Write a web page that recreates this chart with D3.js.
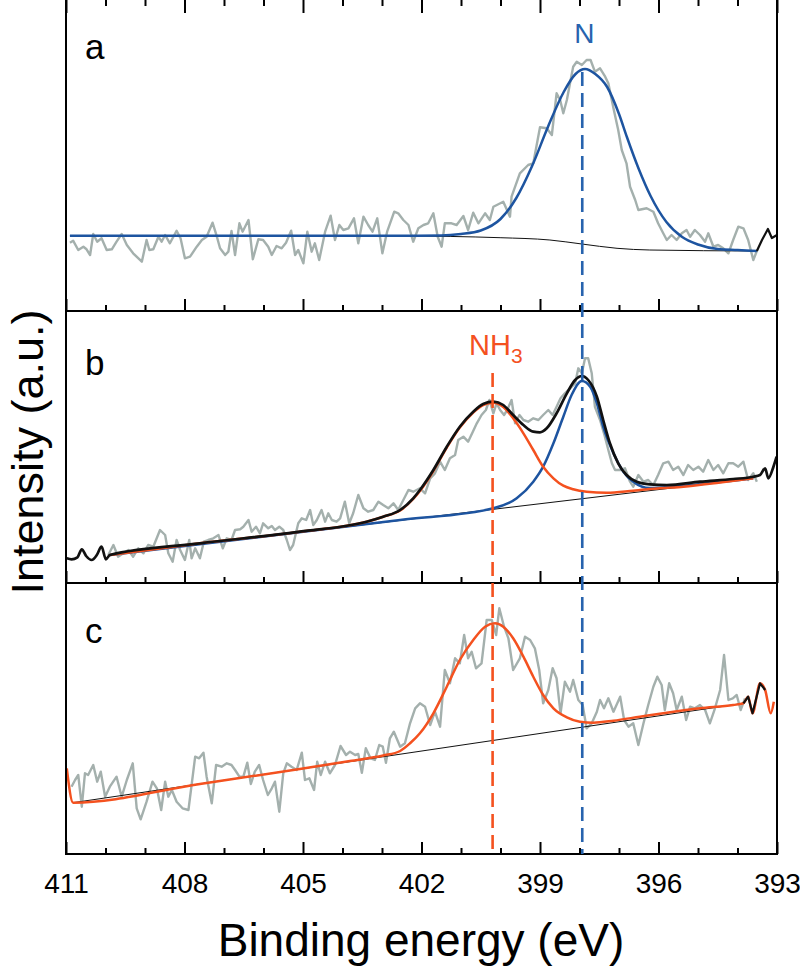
<!DOCTYPE html>
<html><head><meta charset="utf-8">
<script src="https://cdn.jsdelivr.net/npm/d3@7/dist/d3.min.js"></script>
<style>
html,body{margin:0;padding:0;background:#fff;}
svg{display:block;font-family:"Liberation Sans",Arial,Helvetica,sans-serif;}
</style></head>
<body>
<svg id="chart" width="800" height="967"></svg>
<script>
// ---------- data (binding energy eV, intensity a.u.) ----------
const energyMajor = [411, 408, 405, 402, 399, 396, 393];
const energyMinor = [410, 409, 407, 406, 404, 403, 401, 400, 398, 397, 395, 394];
const panelLabels = ["a", "b", "c"];
const peakN = 397.93;
const peakNH3 = 400.2;

// panel a
const rawA = [[410.90,68.3],[410.82,70.3],[410.69,61],[410.56,64.3],[410.48,61.7],[410.39,56],[410.31,77],[410.21,69.3],[410.10,72.7],[409.97,61],[409.84,61.7],[409.72,69.3],[409.59,77],[409.46,66],[409.30,57.7],[409.08,49.3],[408.96,71],[408.89,61],[408.79,61.7],[408.66,74.3],[408.58,69.3],[408.49,76],[408.37,67.7],[408.20,80.3],[408.10,72.7],[407.99,52.7],[407.86,54.3],[407.69,64.3],[407.56,71],[407.44,74.3],[407.29,88.3],[407.18,74.3],[407.10,62.7],[406.97,56],[406.89,59.3],[406.81,80],[406.72,56],[406.61,87.7],[406.53,79.3],[406.38,91],[406.27,51.7],[406.13,71.7],[406.01,71],[405.88,64.3],[405.79,56],[405.67,65],[405.54,62.7],[405.43,68.3],[405.30,80.3],[405.20,56],[405.12,61],[404.99,47.7],[404.89,79.3],[404.78,59.3],[404.70,67.7],[404.59,51],[404.44,79.3],[404.30,95.3],[404.19,71],[404.08,86],[403.98,81],[403.85,82.7],[403.71,92.7],[403.60,67.7],[403.47,94.3],[403.35,86],[403.24,79.3],[403.12,92.7],[402.99,57.7],[402.87,79.3],[402.69,99.3],[402.59,97.7],[402.46,91],[402.33,86],[402.21,69.3],[402.08,82.7],[401.95,86],[401.83,87.7],[401.70,97.7],[401.59,74.3],[401.49,64.3],[401.41,87.7],[401.24,87.7],[401.11,86],[400.94,95],[400.82,81],[400.69,98.3],[400.56,87.7],[400.39,97.7],[400.27,91],[400.18,104.3],[399.93,109.3],[399.76,94.3],[399.72,114.3],[399.51,137.7],[399.30,146],[399.17,147.7],[399.00,183.7],[398.83,182.7],[398.70,176],[398.58,217.7],[398.49,211],[398.41,197.7],[398.32,211],[398.24,227.7],[398.16,244.3],[398.07,249.3],[397.94,246],[397.82,251],[397.72,251],[397.61,239.3],[397.48,242.7],[397.35,234.3],[397.27,227.7],[397.14,202.7],[397.02,181],[396.93,161],[396.81,147.7],[396.72,124.3],[396.59,111],[396.51,101],[396.30,102.7],[396.13,99.3],[396.01,87.7],[395.88,77.7],[395.79,71],[395.67,76],[395.54,71],[395.41,77.7],[395.29,81],[395.20,74.3],[395.08,81],[394.95,76],[394.82,69.3],[394.74,77.7],[394.61,64.3],[394.49,66],[394.36,62.7],[394.23,57.7],[394.11,71],[393.98,84.3],[393.85,82.7],[393.73,71],[393.60,51],[393.50,61]];
const fitA_N = [[410.90,75.3],[405.0,75.3],[402.5,75.3],[401.5,75.5],[401.0,77],[400.5,80.5],[400.0,92],[399.6,113],[399.2,145],[398.8,184],[398.4,219],[398.1,237],[397.86,242],[397.6,237],[397.3,224],[397.0,197],[396.8,174],[396.5,142],[396.2,115],[395.8,89],[395.4,74],[395.0,66.5],[394.5,62],[394.0,61],[393.51,60]];
const bgA = [[410.90,75.3],[402.54,75],[400.01,73.3],[398.75,71],[397.94,67],[397.05,62.7],[396.22,61],[393.51,60]];
const envA = [[393.51,60],[393.38,71],[393.23,82],[393.13,73],[393.0,76]];

// panel b
const rawB = [[409.93,28],[409.80,38],[409.68,26.3],[409.55,29.7],[409.42,33],[409.30,26.3],[409.17,34.7],[409.04,29.7],[408.92,38],[408.79,36.3],[408.62,53],[408.49,48],[408.41,29.7],[408.30,21.3],[408.20,43],[408.11,33],[407.99,23],[407.88,43],[407.82,24.7],[407.73,34.7],[407.61,24.7],[407.51,41.3],[407.40,43],[407.27,44.7],[407.14,48],[407.03,34.7],[406.93,44.7],[406.81,43],[406.72,53],[406.59,53.7],[406.51,56.3],[406.38,63],[406.30,51.3],[406.19,56.3],[406.09,49.7],[406.01,59.7],[405.88,54.7],[405.79,57],[405.71,53],[405.60,56.3],[405.50,53],[405.41,43],[405.33,33],[405.25,38],[405.12,59.7],[405.03,64.7],[404.92,63],[404.82,73],[404.74,58],[404.65,63],[404.53,73],[404.44,61.3],[404.36,69.7],[404.27,63],[404.15,61.3],[404.06,64.7],[403.94,81.3],[403.83,59.7],[403.73,69.7],[403.60,88],[403.47,74.7],[403.35,71.3],[403.22,73],[403.09,81.3],[402.97,78],[402.84,74.7],[402.71,79.7],[402.59,73],[402.46,83],[402.33,93],[402.21,91.3],[402.04,94.7],[401.91,89.7],[401.78,104.7],[401.66,109.7],[401.53,121.3],[401.41,113],[401.28,124.7],[401.15,128],[401.07,143],[400.94,146.3],[400.82,141.3],[400.70,151.3],[400.60,159.7],[400.48,168],[400.37,173],[400.28,183],[400.18,169.7],[400.10,179.7],[400.01,173],[399.91,168],[399.83,173],[399.72,183],[399.63,159.7],[399.52,168],[399.42,163],[399.30,161.3],[399.17,164.7],[399.04,163],[398.92,168],[398.79,173],[398.68,168],[398.58,176.3],[398.48,184.7],[398.37,189.7],[398.24,194.7],[398.11,199.7],[398.03,214.7],[397.94,209.7],[397.86,224.7],[397.78,224.7],[397.69,209.7],[397.61,176.3],[397.48,163],[397.38,149.7],[397.27,133],[397.18,119.7],[397.10,113],[396.97,113],[396.85,114.7],[396.72,101.3],[396.64,96.3],[396.51,108],[396.38,101.3],[396.26,103],[396.13,98],[396.01,108],[395.88,119.7],[395.75,121.3],[395.63,113],[395.50,116.3],[395.37,108],[395.25,118],[395.12,113],[394.99,116.3],[394.87,111.3],[394.74,123],[394.61,113],[394.49,118],[394.36,109.7],[394.23,119.7],[394.11,119.7],[393.98,116.3],[393.85,121.3],[393.73,103],[393.60,109.7],[393.51,101.3]];
const fitB_N = [[409.89,28],[402.54,63],[400.18,74.7],[399.59,84.7],[399.17,101.3],[398.92,116.3],[398.66,139.7],[398.41,166.3],[398.20,188],[397.94,202],[397.73,196.3],[397.56,179.7],[397.40,156.3],[397.14,129.7],[396.89,111.3],[396.64,101.3],[396.22,95],[395.46,97],[393.60,104.7]];
const fitB_NH3 = [[409.89,28],[407.61,39.7],[405.08,51.3],[403.39,61.3],[402.97,66.3],[402.54,72.5],[402.21,84],[402.04,92],[401.70,112],[401.36,135.5],[401.03,155.5],[400.69,170.5],[400.44,178],[400.18,180.3],[399.93,176],[399.68,164.7],[399.42,149.7],[399.17,133],[398.92,116.3],[398.66,104.7],[398.41,97.3],[398.16,93.7],[397.82,91.3],[397.31,90.3],[396.64,92.3],[395.96,94.7],[395.37,96.3],[394.44,100.5],[393.60,104.7]];
const envB = [[410.98,24.7],[410.86,23.7],[410.71,25.7],[410.60,33.7],[410.49,27],[410.35,23],[410.22,28],[410.10,36.3],[409.99,23.7],[409.89,28],[407.61,39.7],[405.08,51.3],[403.39,61.3],[402.97,66.3],[402.54,73],[402.21,84.7],[402.04,93],[401.70,113],[401.36,136.3],[401.03,156.3],[400.69,171.3],[400.44,179],[400.18,181.3],[399.93,178],[399.68,168],[399.42,158],[399.17,151.3],[399.0,150.7],[398.83,154.7],[398.58,169.7],[398.32,189.7],[398.11,203],[397.94,207],[397.78,203],[397.56,186.3],[397.40,163],[397.23,139.7],[397.02,119.7],[396.81,108],[396.55,101.3],[396.22,98.7],[395.79,98],[394.95,101.3],[394.11,104],[393.60,106.3],[393.43,108],[393.30,114.7],[393.22,104.7],[393.09,116.3],[393.01,126.3]];
const bgB = [[409.89,28],[393.60,104.7]];

// panel c
const rawC = [[410.86,67.3],[410.77,74],[410.69,79],[410.60,47.3],[410.52,80.7],[410.44,79],[410.31,89],[410.21,72.3],[410.12,82.3],[410.01,57.3],[409.89,67.3],[409.72,77.3],[409.59,57.3],[409.46,74],[409.31,90.7],[409.21,45.7],[409.11,34.7],[408.96,52.3],[408.81,72.3],[408.70,65.7],[408.59,44],[408.49,72.3],[408.41,57.3],[408.32,64],[408.20,52.3],[408.05,45.7],[407.90,44],[407.73,97.3],[407.63,95.7],[407.52,101.3],[407.44,77.3],[407.31,50.7],[407.20,89],[407.06,87.3],[406.93,90.7],[406.81,89],[406.72,84],[406.61,77.3],[406.51,77.3],[406.41,91.3],[406.32,70],[406.22,82.3],[406.11,89],[406.01,74],[405.89,59],[405.79,65.7],[405.71,72.3],[405.60,42.3],[405.50,80.7],[405.41,90.7],[405.29,87.3],[405.16,84],[405.03,101.3],[404.95,74],[404.84,75.7],[404.72,64],[404.64,92.3],[404.55,79],[404.44,92.3],[404.32,80.7],[404.19,89],[404.05,108],[403.91,99],[403.81,102.3],[403.68,99],[403.60,100],[403.51,81.3],[403.41,105.7],[403.29,95.7],[403.18,94],[403.07,109],[402.98,107.3],[402.90,91.3],[402.80,115.7],[402.70,122.3],[402.54,107.3],[402.42,110.7],[402.29,130.7],[402.16,145.7],[402.04,150.7],[401.91,147.3],[401.78,129],[401.66,142.3],[401.53,127.3],[401.41,184],[401.28,170.7],[401.15,195.7],[401.03,190.7],[400.92,219],[400.82,195.7],[400.73,202.3],[400.62,185.7],[400.48,190.7],[400.35,234],[400.22,234],[400.11,219],[400.03,245.7],[399.91,227.3],[399.80,215.7],[399.68,184],[399.51,195.7],[399.38,217.3],[399.25,214],[399.13,205.7],[399.02,184],[398.92,150.7],[398.79,164],[398.68,185.7],[398.58,175.7],[398.48,140.7],[398.37,172.3],[398.24,162.3],[398.16,174],[398.03,154],[397.92,149],[397.82,125.7],[397.69,130.7],[397.56,142.3],[397.48,154],[397.38,145.7],[397.27,155.7],[397.14,142.3],[396.97,157.3],[396.87,134],[396.76,127.3],[396.64,130.7],[396.51,109],[396.38,130.7],[396.26,149],[396.13,167.3],[396.03,177.3],[395.92,169],[395.84,144],[395.73,170.7],[395.63,160.7],[395.54,144],[395.41,157.3],[395.30,134],[395.20,147.3],[395.08,145.7],[394.95,149],[394.82,144],[394.70,130.7],[394.57,145.7],[394.44,164],[394.34,199],[394.23,154],[394.12,155.7],[394.02,159],[393.92,144],[393.81,155.7]];
const fitC_NH3 = [[410.98,85.7],[410.82,51.3],[407.61,70],[405.08,85],[403.81,93],[402.97,98.5],[402.54,103],[402.29,110.7],[402.04,120.7],[401.70,140.7],[401.36,167.3],[401.03,194],[400.69,214],[400.39,227.3],[400.14,230.7],[399.93,227.3],[399.68,215.7],[399.42,197.3],[399.17,177.3],[398.92,159],[398.66,145.7],[398.32,136.7],[397.99,132.3],[397.65,131.3],[397.14,133.3],[396.47,137.3],[395.79,141.3],[394.95,145.7],[394.11,149],[393.85,150.7],[393.73,157.3],[393.62,140.7],[393.43,170.7],[393.30,164],[393.16,140.7],[393.08,152.3]];
const envC = [[393.85,150.7],[393.73,157.3],[393.62,140.7],[393.43,170.7],[393.30,164]];
const bgC = [[410.82,51.3],[393.85,150.7]];

// ---------- styling / layout ----------
const COL = {gray:"#a4b0ad", blue:"#1d54a0", blueDash:"#2763ae", orange:"#f4511f", black:"#111111"};
const FONT = '"Liberation Sans",Arial,Helvetica,sans-serif';
const left = 66, right = 777;
const panels = [
  {top:-1, bottom:311, raw:rawA, bg:bgA, comps:[{d:fitA_N,c:COL.blue}], env:envA, labelY:59},
  {top:311, bottom:583, raw:rawB, bg:bgB, comps:[{d:fitB_N,c:COL.blue},{d:fitB_NH3,c:COL.orange}], env:envB, labelY:375},
  {top:583, bottom:854, raw:rawC, bg:bgC, comps:[{d:fitC_NH3,c:COL.orange}], env:envC, labelY:643}
];

const svg = d3.select("#chart");
const x = d3.scaleLinear().domain([411, 393]).range([left, right]);

panels.forEach((p, i) => {
  const y = d3.scaleLinear().domain([0, p.bottom - p.top]).range([p.bottom, p.top]);
  const g = svg.append("g");
  const raw = d3.line().x(d => x(d[0])).y(d => y(d[1]));
  const smooth = d3.line().x(d => x(d[0])).y(d => y(d[1])).curve(d3.curveMonotoneX);

  g.append("path").attr("d", raw(p.raw)).attr("fill","none")
    .attr("stroke", COL.gray).attr("stroke-width", 2.4).attr("stroke-linejoin","round");
  g.append("path").attr("d", smooth(p.bg)).attr("fill","none")
    .attr("stroke", COL.black).attr("stroke-width", 1);
  p.comps.forEach(c => {
    g.append("path").attr("d", smooth(c.d)).attr("fill","none")
      .attr("stroke", c.c).attr("stroke-width", 2.5).attr("stroke-linejoin","round");
  });
  if (i === 1) {
    g.append("path").attr("d", smooth(p.env)).attr("fill","none")
      .attr("stroke", COL.black).attr("stroke-width", 2.7).attr("stroke-linejoin","round");
  } else {
    g.append("path").attr("d", raw(p.env)).attr("fill","none")
      .attr("stroke", COL.black).attr("stroke-width", 2.2).attr("stroke-linejoin","round");
  }

  // ticks (inward)
  const bottomMajor = d3.axisBottom(x).tickValues(energyMajor).tickSize(-12).tickFormat("");
  const bottomMinor = d3.axisBottom(x).tickValues(energyMinor).tickSize(-6).tickFormat("");
  [bottomMajor, bottomMinor].forEach(ax => {
    const a = svg.append("g").attr("transform", `translate(0,${p.bottom})`).call(ax);
    a.select(".domain").remove();
    a.selectAll("line").attr("stroke", "#000").attr("stroke-width", 2);
  });
  if (i === 0) {
    const topMajor = d3.axisTop(x).tickValues(energyMajor).tickSize(-14).tickFormat("");
    const topMinor = d3.axisTop(x).tickValues(energyMinor).tickSize(-7).tickFormat("");
    [topMajor, topMinor].forEach(ax => {
      const a = svg.append("g").attr("transform", `translate(0,${p.top})`).call(ax);
      a.select(".domain").remove();
      a.selectAll("line").attr("stroke", "#000").attr("stroke-width", 2);
    });
  }
  // frame
  svg.append("rect").attr("x", left).attr("y", p.top).attr("width", right - left)
    .attr("height", p.bottom - p.top).attr("fill","none").attr("stroke","#000").attr("stroke-width", 2);
  // panel label
  svg.append("text").attr("x", 85).attr("y", p.labelY).attr("font-size", 35)
    .attr("fill", "#000").text(panelLabels[i]);
});

// dashed reference lines
svg.append("line").attr("x1", x(peakN)).attr("x2", x(peakN)).attr("y1", 72).attr("y2", 854)
  .attr("stroke", COL.blueDash).attr("stroke-width", 2.6).attr("stroke-dasharray", "14,7");
svg.append("line").attr("x1", x(peakNH3)).attr("x2", x(peakNH3)).attr("y1", 373).attr("y2", 854)
  .attr("stroke", COL.orange).attr("stroke-width", 2.6).attr("stroke-dasharray", "14,7");

// peak labels
svg.append("text").attr("x", x(peakN) + 2).attr("y", 43).attr("text-anchor","middle")
  .attr("font-size", 28).attr("fill", COL.blueDash).text("N");
const nh3 = svg.append("text").attr("x", 469).attr("y", 355).attr("font-size", 29).attr("fill", COL.orange);
nh3.append("tspan").text("NH");
nh3.append("tspan").attr("font-size", 21).attr("dy", 8).text("3");

// x tick labels
const lab = svg.append("g").attr("transform", "translate(0,854)")
  .call(d3.axisBottom(x).tickValues(energyMajor).tickSize(0).tickPadding(19).tickFormat(d3.format("d")));
lab.select(".domain").remove();
lab.selectAll("text").attr("font-size", 28).attr("fill", "#000").attr("font-family", FONT);

// axis titles
svg.append("text").attr("x", 421).attr("y", 956).attr("text-anchor","middle")
  .attr("font-size", 46).attr("fill","#000").text("Binding energy (eV)");
svg.append("text").attr("transform", "translate(43,452) rotate(-90)").attr("text-anchor","middle")
  .attr("font-size", 45).attr("fill","#000").text("Intensity (a.u.)");
</script>
</body></html>
